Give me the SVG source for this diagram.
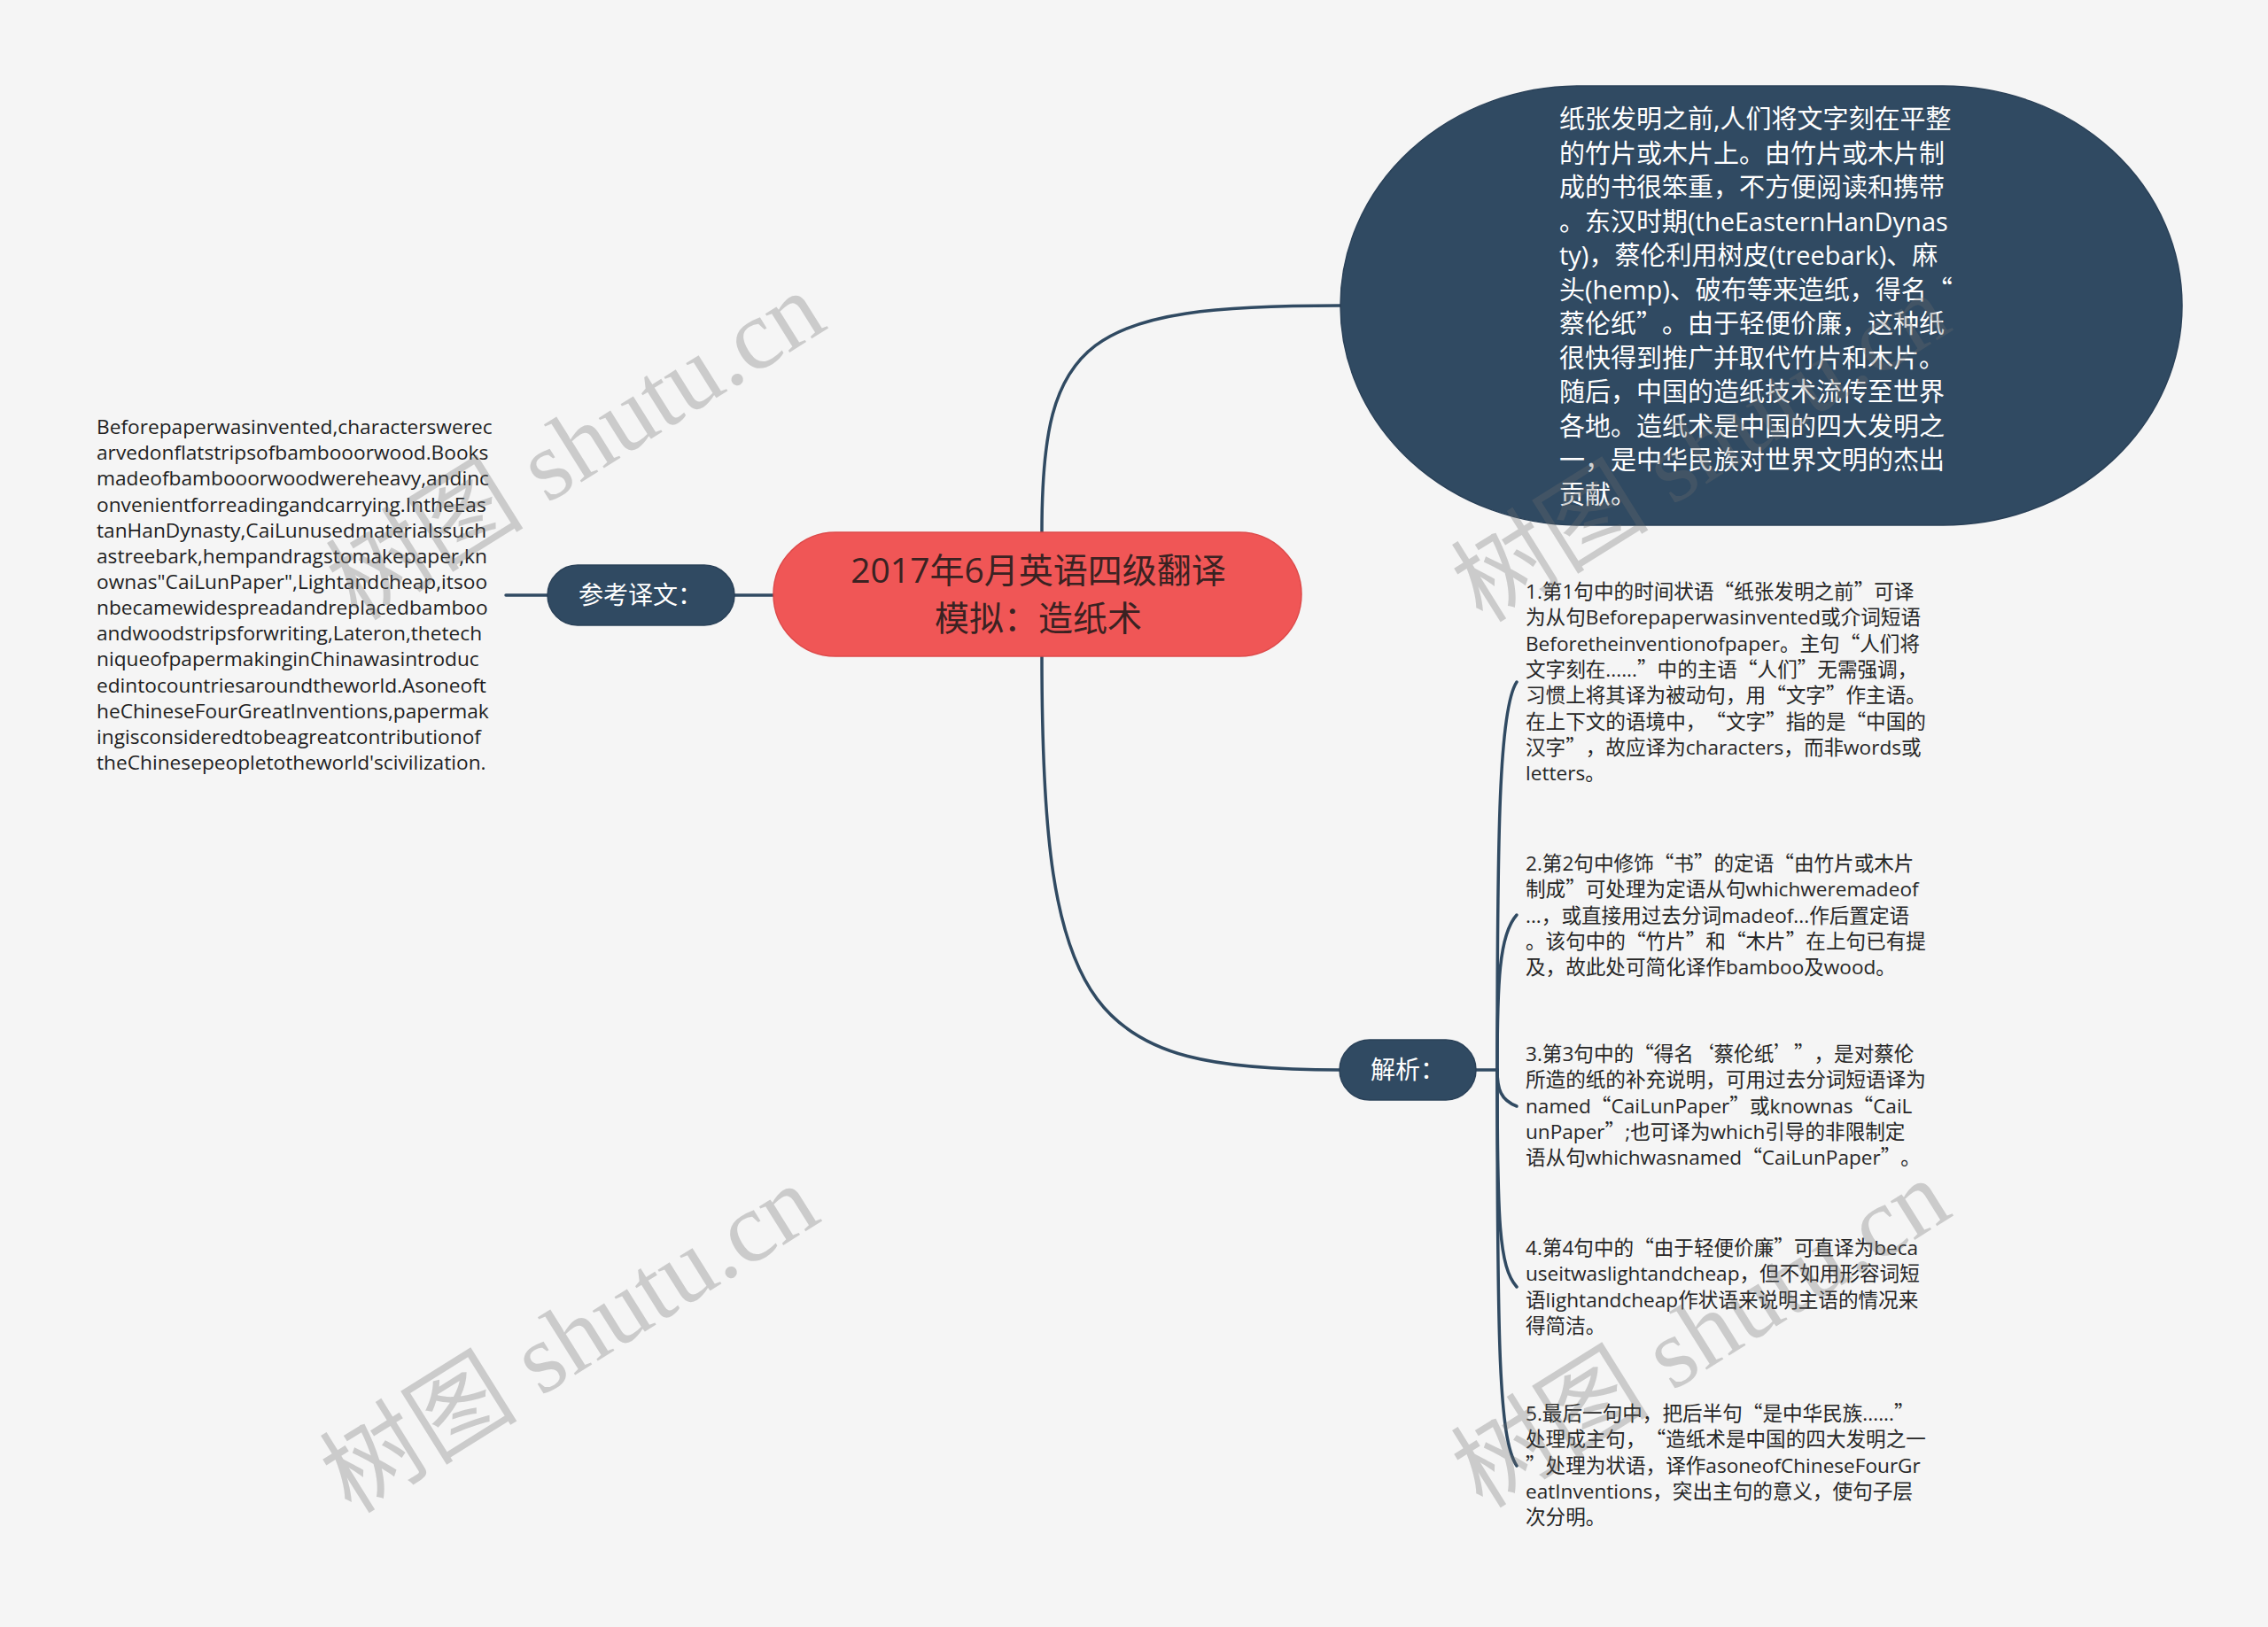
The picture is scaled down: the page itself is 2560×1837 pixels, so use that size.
<svg xmlns="http://www.w3.org/2000/svg" width="2560" height="1837" viewBox="0 0 2560 1837">
<style>
text{text-spacing-trim:space-all}
.bg{fill:#F5F5F5}
.dark{fill:#304A62;stroke:#2A4158;stroke-width:1.5}
.red{fill:#F05656;stroke:#DE4A4A;stroke-width:1.5}
.con{fill:none;stroke:#304A62;stroke-width:3.5;stroke-linecap:round}
.lbl{font-family:"Noto Sans CJK SC",sans-serif;font-size:28px;fill:#FFFFFF}
.title{font-family:"Open Sans","Noto Sans CJK SC",sans-serif;font-size:39px;fill:#3A2222;text-anchor:middle}
.big{font-family:"Open Sans","Noto Sans CJK SC",sans-serif;font-size:29px;fill:#FFFFFF}
.en{font-family:"Open Sans",sans-serif;font-size:22.7px;fill:#1E1E1E}
.it{font-family:"Open Sans","Noto Sans CJK SC",sans-serif;font-size:22.6px;fill:#262626}
.q{font-family:"Noto Sans CJK SC",sans-serif}
.wm{font-family:"Liberation Serif","Noto Sans CJK SC",serif;font-size:112px;fill:#6E6E6E;opacity:0.3;text-anchor:middle}
</style>
<rect class="bg" x="0" y="0" width="2560" height="1837"/>

<g id="connectors">
  <path class="con" d="M1176 601 C1176 380 1225 345 1513 345"/>
  <path class="con" d="M1176 741 C1176 1150 1230 1208 1512 1208"/>
  <path class="con" d="M829 672 L873 672"/>
  <path class="con" d="M571 672 L618 672"/>
  <path class="con" d="M1666 1208 L1690 1208"/>
  <path class="con" d="M1690 1208 C1690 940 1692 800 1712 770"/>
  <path class="con" d="M1690 1208 C1690 1110 1692 1055 1712 1033"/>
  <path class="con" d="M1690 1208 C1690 1230 1694 1242 1712 1249"/>
  <path class="con" d="M1690 1208 C1690 1380 1692 1430 1712 1453"/>
  <path class="con" d="M1690 1208 C1690 1520 1692 1625 1712 1655"/>
</g>

<g id="node-root">
  <rect class="red" x="873" y="601" width="596" height="140" rx="70" ry="70"/>
  <text class="title"><tspan x="1172" y="658">2017年6月英语四级翻译</tspan><tspan x="1172" y="712">模拟：造纸术</tspan></text>
</g>

<g id="node-chinese">
  <rect class="dark" x="1513" y="97" width="950" height="496" rx="270" ry="248"/>
  <text class="big">
    <tspan x="1760" y="145">纸张发明之前,人们将文字刻在平整</tspan>
    <tspan x="1760" y="183.5">的竹片或木片上。由竹片或木片制</tspan>
    <tspan x="1760" y="222">成的书很笨重，不方便阅读和携带</tspan>
    <tspan x="1760" y="260.5">。东汉时期(theEasternHanDynas</tspan>
    <tspan x="1760" y="299">ty)，蔡伦利用树皮(treebark)、麻</tspan>
    <tspan x="1760" y="337.5">头(hemp)、破布等来造纸，得名<tspan class="q">“</tspan></tspan>
    <tspan x="1760" y="376">蔡伦纸<tspan class="q">”</tspan>。由于轻便价廉，这种纸</tspan>
    <tspan x="1760" y="414.5">很快得到推广并取代竹片和木片。</tspan>
    <tspan x="1760" y="453">随后，中国的造纸技术流传至世界</tspan>
    <tspan x="1760" y="491.5">各地。造纸术是中国的四大发明之</tspan>
    <tspan x="1760" y="530">一，是中华民族对世界文明的杰出</tspan>
    <tspan x="1760" y="568.5">贡献。</tspan>
  </text>
</g>

<g id="node-ref">
  <rect class="dark" x="618" y="638" width="211" height="68" rx="34" ry="34"/>
  <text class="lbl" x="653" y="682">参考译文：</text>
</g>

<g id="node-ref-text">
  <text class="en">
    <tspan x="109" y="490">Beforepaperwasinvented,characterswerec</tspan>
    <tspan x="109" y="519.2">arvedonflatstripsofbambooorwood.Books</tspan>
    <tspan x="109" y="548.3">madeofbambooorwoodwereheavy,andinc</tspan>
    <tspan x="109" y="577.5">onvenientforreadingandcarrying.IntheEas</tspan>
    <tspan x="109" y="606.6">tanHanDynasty,CaiLunusedmaterialssuch</tspan>
    <tspan x="109" y="635.8">astreebark,hempandragstomakepaper,kn</tspan>
    <tspan x="109" y="664.9">ownas"CaiLunPaper",Lightandcheap,itsoo</tspan>
    <tspan x="109" y="694.1">nbecamewidespreadandreplacedbamboo</tspan>
    <tspan x="109" y="723.2">andwoodstripsforwriting,Lateron,thetech</tspan>
    <tspan x="109" y="752.4">niqueofpapermakinginChinawasintroduc</tspan>
    <tspan x="109" y="781.5">edintocountriesaroundtheworld.Asoneoft</tspan>
    <tspan x="109" y="810.7">heChineseFourGreatInventions,papermak</tspan>
    <tspan x="109" y="839.8">ingisconsideredtobeagreatcontributionof</tspan>
    <tspan x="109" y="869">theChinesepeopletotheworld'scivilization.</tspan>
  </text>
</g>

<g id="node-analysis">
  <rect class="dark" x="1512" y="1174" width="154" height="68" rx="34" ry="34"/>
  <text class="lbl" x="1547" y="1218">解析：</text>
</g>

<g id="node-item1">
  <text class="it">
    <tspan x="1722" y="676">1.第1句中的时间状语<tspan class="q">“</tspan>纸张发明之前<tspan class="q">”</tspan>可译</tspan>
    <tspan x="1722" y="705.3">为从句Beforepaperwasinvented或介词短语</tspan>
    <tspan x="1722" y="734.6">Beforetheinventionofpaper。主句<tspan class="q">“</tspan>人们将</tspan>
    <tspan x="1722" y="763.9">文字刻在......<tspan class="q">”</tspan>中的主语<tspan class="q">“</tspan>人们<tspan class="q">”</tspan>无需强调，</tspan>
    <tspan x="1722" y="793.2">习惯上将其译为被动句，用<tspan class="q">“</tspan>文字<tspan class="q">”</tspan>作主语。</tspan>
    <tspan x="1722" y="822.5">在上下文的语境中，<tspan class="q">“</tspan>文字<tspan class="q">”</tspan>指的是<tspan class="q">“</tspan>中国的</tspan>
    <tspan x="1722" y="851.8">汉字<tspan class="q">”</tspan>，故应译为characters，而非words或</tspan>
    <tspan x="1722" y="881.1">letters。</tspan>
  </text>
</g>

<g id="node-item2">
  <text class="it">
    <tspan x="1722" y="983">2.第2句中修饰<tspan class="q">“</tspan>书<tspan class="q">”</tspan>的定语<tspan class="q">“</tspan>由竹片或木片</tspan>
    <tspan x="1722" y="1012.3">制成<tspan class="q">”</tspan>可处理为定语从句whichweremadeof</tspan>
    <tspan x="1722" y="1041.6">...，或直接用过去分词madeof...作后置定语</tspan>
    <tspan x="1722" y="1070.9">。该句中的<tspan class="q">“</tspan>竹片<tspan class="q">”</tspan>和<tspan class="q">“</tspan>木片<tspan class="q">”</tspan>在上句已有提</tspan>
    <tspan x="1722" y="1100.2">及，故此处可简化译作bamboo及wood。</tspan>
  </text>
</g>

<g id="node-item3">
  <text class="it">
    <tspan x="1722" y="1198">3.第3句中的<tspan class="q">“</tspan>得名<tspan class="q">‘</tspan>蔡伦纸<tspan class="q">’”</tspan>，是对蔡伦</tspan>
    <tspan x="1722" y="1227.3">所造的纸的补充说明，可用过去分词短语译为</tspan>
    <tspan x="1722" y="1256.6">named<tspan class="q">“</tspan>CaiLunPaper<tspan class="q">”</tspan>或knownas<tspan class="q">“</tspan>CaiL</tspan>
    <tspan x="1722" y="1285.9">unPaper<tspan class="q">”</tspan>;也可译为which引导的非限制定</tspan>
    <tspan x="1722" y="1315.2">语从句whichwasnamed<tspan class="q">“</tspan>CaiLunPaper<tspan class="q">”</tspan>。</tspan>
  </text>
</g>

<g id="node-item4">
  <text class="it">
    <tspan x="1722" y="1417">4.第4句中的<tspan class="q">“</tspan>由于轻便价廉<tspan class="q">”</tspan>可直译为beca</tspan>
    <tspan x="1722" y="1446.3">useitwaslightandcheap，但不如用形容词短</tspan>
    <tspan x="1722" y="1475.6">语lightandcheap作状语来说明主语的情况来</tspan>
    <tspan x="1722" y="1504.9">得简洁。</tspan>
  </text>
</g>

<g id="node-item5">
  <text class="it">
    <tspan x="1722" y="1604">5.最后一句中，把后半句<tspan class="q">“</tspan>是中华民族......<tspan class="q">”</tspan></tspan>
    <tspan x="1722" y="1633.3">处理成主句，<tspan class="q">“</tspan>造纸术是中国的四大发明之一</tspan>
    <tspan x="1722" y="1662.6"><tspan class="q">”</tspan>处理为状语，译作asoneofChineseFourGr</tspan>
    <tspan x="1722" y="1691.9">eatInventions，突出主句的意义，使句子层</tspan>
    <tspan x="1722" y="1721.2">次分明。</tspan>
  </text>
</g>

<g id="watermarks">
  <text class="wm" transform="translate(670 536) rotate(-32)">树图 shutu.cn</text>
  <text class="wm" transform="translate(1940 538) rotate(-32)">树图 shutu.cn</text>
  <text class="wm" transform="translate(663 1544) rotate(-32)">树图 shutu.cn</text>
  <text class="wm" transform="translate(1940 1538) rotate(-32)">树图 shutu.cn</text>
</g>
</svg>
